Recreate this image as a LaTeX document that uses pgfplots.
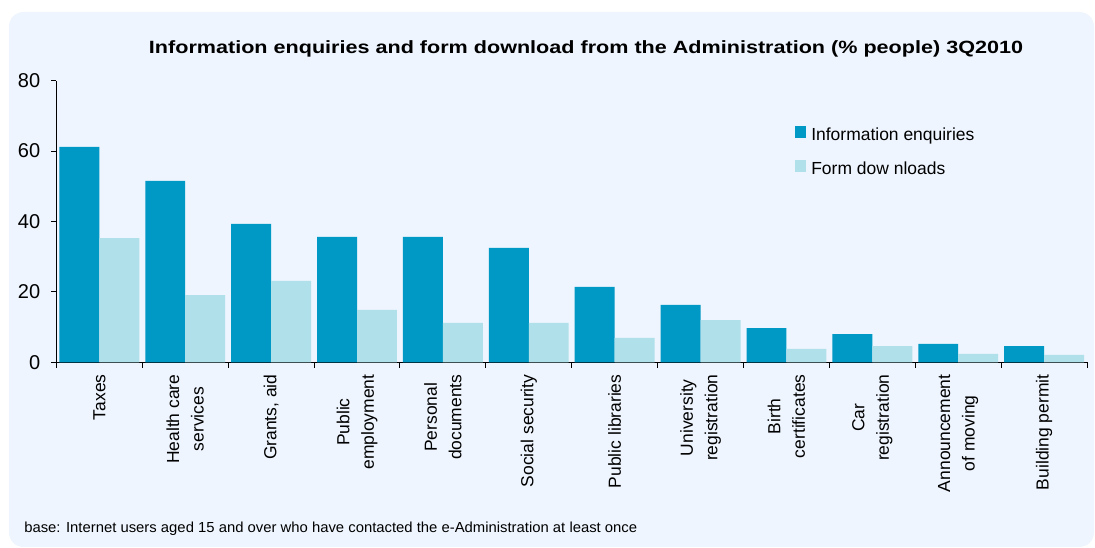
\documentclass[border=0pt]{standalone}
\usepackage{pgfplots}
\pgfplotsset{compat=1.18}
\usepackage{graphicx}
\usepackage{fontspec}
\setmainfont{Liberation Sans}
\definecolor{panel}{RGB}{238,245,254}
\definecolor{darkbar}{RGB}{0,152,196}
\definecolor{lightbar}{RGB}{176,224,234}
\begin{document}
\begin{tikzpicture}
\begin{scope}[x=0.75pt,y=0.75pt]
\fill[white] (0,0) rectangle (1095,548);
\fill[panel, rounded corners=11pt] (9,1) rectangle (1094,536);
\node[anchor=base, inner sep=0pt] at (586,494.6) {\resizebox{655.5pt}{\height}{\fontsize{13.3}{16}\selectfont\bfseries Information enquiries and form download from the Administration (\% people) 3Q2010}};
\node[anchor=base west, inner sep=0pt] at (24,15.7) {\resizebox{459.75pt}{\height}{\fontsize{10.9}{13}\selectfont base: Internet users aged 15 and over who have contacted the e-Administration at least once}};
\end{scope}
\begin{axis}[
  at={(42.3pt,139.3pt)}, anchor=south west,
  scale only axis, width=773pt, height=211.2pt,
  xmin=-0.5, xmax=11.5, ymin=0, ymax=80,
  axis lines*=left,
  axis line style={black, line width=0.8pt},
  tick align=outside,
  major tick length=4pt,
  ytick={0,20,40,60,80},
  ytick style={black, line width=0.7pt},
  yticklabel style={font=\fontsize{15}{15}\selectfont, inner sep=0pt, xshift=-8pt},
  /pgf/number format/assume math mode=true,
  xtick={-0.5,0.5,...,11.5},
  xticklabels={},
  xtick style={black, line width=0.7pt},
  extra x ticks={0,1,2,3,4,5,6,7,8,9,10,11},
  extra x tick labels={Taxes,Health care\\services,{Grants, aid},Public\\employment,Personal\\documents,Social security,Public libraries,University\\registration,Birth\\certificates,Car\\registration,Announcement\\of moving,Building permit},
  extra x tick style={major tick length=0pt, xticklabel style={yshift=-9pt, rotate=90, anchor=east, align=center, inner sep=0pt, font=\fontsize{13.1}{18.4}\selectfont}},
  legend cell align=left,
  legend style={draw=none, fill=none, at={(0.712,0.8487)}, anchor=north west,
    font=\fontsize{13.1}{15}\selectfont, row sep=11.5pt, column sep=4pt,
    nodes={inner sep=0pt, text height=9.5pt, text depth=3pt}},
  legend image code/.code={\fill[#1] (0pt,-1.5pt) rectangle (8.6pt,7.5pt);},
]
\addplot[ybar, bar width=0.465, bar shift=-0.2325, fill=darkbar, draw=none] coordinates {
(0,61.2) (1,51.5) (2,39.3) (3,35.6) (4,35.6) (5,32.5) (6,21.4) (7,16.3) (8,9.7) (9,8.0) (10,5.2) (11,4.6)};
\addlegendentry{Information enquiries}
\addplot[ybar, bar width=0.465, bar shift=0.2325, fill=lightbar, draw=none] coordinates {
(0,35.3) (1,19.1) (2,23.1) (3,14.9) (4,11.2) (5,11.2) (6,6.9) (7,12.0) (8,3.8) (9,4.6) (10,2.4) (11,2.1)};
\addlegendentry{Form dow nloads}
\end{axis}
\pgfresetboundingbox
\path[use as bounding box] (0,0) rectangle (821.25pt,411pt);
\end{tikzpicture}
\end{document}
